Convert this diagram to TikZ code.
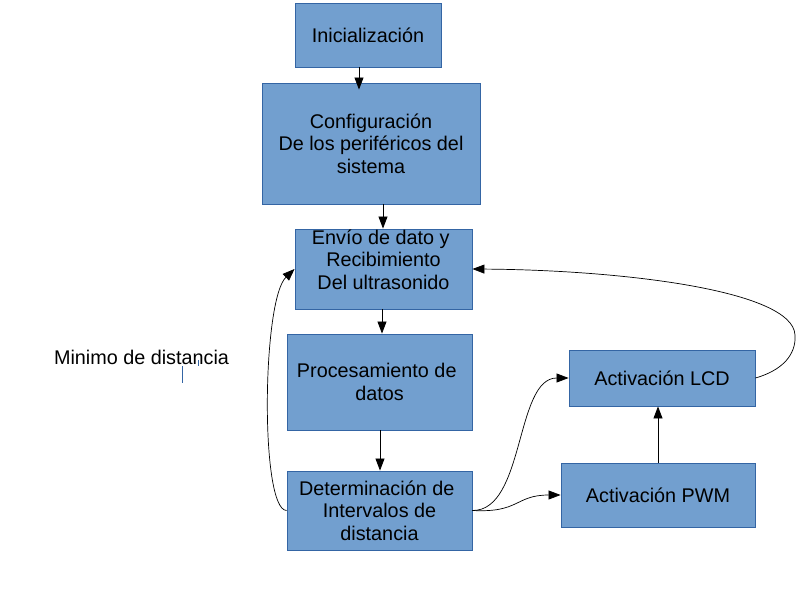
\documentclass[tikz,border=0pt]{standalone}
\usepackage{fontspec}
\setmainfont{Liberation Sans}
\usetikzlibrary{arrows.meta}
\definecolor{boxfill}{HTML}{729FCF}
\definecolor{boxline}{HTML}{3465A4}
\newcommand{\tsp}{\hspace*{5.5bp}}
\begin{document}
\begin{tikzpicture}[x=1bp,y=-1bp,
  box/.style={draw=boxline, fill=boxfill, line width=0.9bp, inner sep=0pt, align=center,
    font=\fontsize{19.8bp}{22.5bp}\selectfont, text=black},
  conn/.style={draw=black, line width=0.8bp, -{Triangle[length=12bp,width=9bp]}},
  curv/.style={draw=black, line width=0.7bp, -{Triangle[length=12bp,width=9bp]}},
  cursor/.style={draw=boxline, line width=0.8bp}]
\useasboundingbox (0,0) rectangle (808,616);
\fill[white] (0,0) rectangle (808,616);

\node[box, minimum width=146bp, minimum height=64bp] (ini) at (368,35) {Inicialización};
\node[box, minimum width=218bp, minimum height=121bp] (conf) at (371,143.5) {Configuración\\De los periféricos del\tsp\\sistema};
\node[box, minimum width=177bp, minimum height=80bp] (env) at (383.5,269) {Envío de dato y\tsp\\Recibimiento\\Del ultrasonido\\[-3bp]\mbox{}};
\node[box, minimum width=185bp, minimum height=96bp] (proc) at (379.5,382) {Procesamiento de\tsp\\datos};
\node[box, minimum width=185bp, minimum height=79bp] (det) at (379.5,510.5) {Determinación de\tsp\\Intervalos de\tsp\\distancia};
\node[box, minimum width=186bp, minimum height=56bp] (lcd) at (662,378) {Activación LCD};
\node[box, minimum width=194bp, minimum height=64bp] (pwm) at (658,495) {Activación PWM};

\node[font=\fontsize{19.8bp}{22.5bp}\selectfont, inner sep=0pt] (min) at (141.5,357) {Minimo de distancia};
\coordinate (c1a) at (182.7,366);
\coordinate (c1b) at (182.7,383);
\coordinate (c2a) at (198.3,360);
\coordinate (c2b) at (198.3,366);
\draw[cursor] (c1a) -- (c1b);
\draw[cursor] (c2a) -- (c2b);

% straight connectors
\draw[conn, shorten >=-7bp] (ini.south -| 359,0) -- (conf.north -| 359,0);
\draw[conn] (conf.south -| 383,0) -- (env.north -| 383,0);
\draw[conn] (env.south -| 382,0) -- (proc.north -| 382,0);
\draw[conn] (proc.south -| 380,0) -- (det.north -| 380,0);
\draw[conn] (pwm.north -| 658,0) -- (lcd.south -| 658,0);

% curved connectors
\draw[curv] (det.west) .. controls (260,510) and (262,300) .. (env.west);
\draw[curv] (det.east) .. controls (525,511) and (515,378) .. (lcd.west);
\draw[curv] (det.east) .. controls (520,513) and (515,495) .. (pwm.west);
\coordinate (bend) at (795,335);
\draw[curv] (lcd.east) .. controls (790,368) and (796,348) .. (bend)
  .. controls (793,290) and (620,270) .. (env.east);
\end{tikzpicture}
\end{document}
